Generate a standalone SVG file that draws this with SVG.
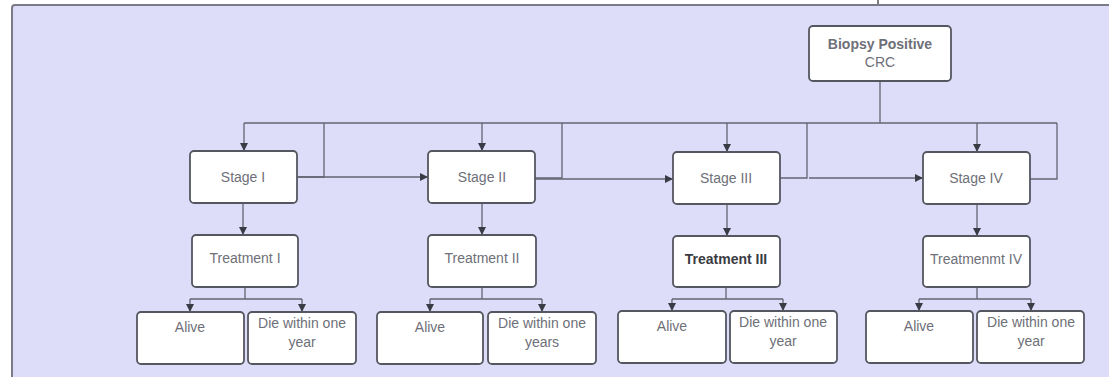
<svg xmlns="http://www.w3.org/2000/svg" width="1109" height="377" viewBox="0 0 1109 377">
<defs>
<style>
.frame{fill:#dddcf9;stroke:#7b7b88;stroke-width:2}
.box{fill:#ffffff;stroke:#555760;stroke-width:1.8}
.t{font-family:"Liberation Sans",Arial,sans-serif;font-size:14px;fill:#6e6f78;text-anchor:middle}
.b{font-weight:bold}
.dark{fill:#3a3b42;font-weight:bold}
.c{fill:none;stroke:#636472;stroke-width:1.3}
</style>
<marker id="ah" viewBox="0 0 10 10" refX="10" refY="5" markerWidth="8" markerHeight="8" markerUnits="userSpaceOnUse" orient="auto">
<path d="M0,0 L10,5 L0,10 Z" fill="#3a3b45"/>
</marker>
</defs>
<rect x="0" y="0" width="1109" height="377" fill="#ffffff"/>
<rect class="frame" x="12" y="5" width="1110" height="380" rx="3"/>
<line x1="878" y1="0" x2="878" y2="4" stroke="#555" stroke-width="1.5"/>

<g id="connectors">
<path class="c" d="M880,81 V123"/>
<path class="c" d="M244,123 H1057"/>
<path class="c" d="M244,123 V151" marker-end="url(#ah)"/>
<path class="c" d="M482,123 V151" marker-end="url(#ah)"/>
<path class="c" d="M727,123 V152" marker-end="url(#ah)"/>
<path class="c" d="M977,123 V152" marker-end="url(#ah)"/>
<path class="c" d="M297,177 H324 V123"/>
<path class="c" d="M535,178 H562 V123"/>
<path class="c" d="M780,178 H807 V123"/>
<path class="c" d="M1030,179 H1057 V123"/>
<path class="c" d="M297,177 H428" marker-end="url(#ah)"/>
<path class="c" d="M535,179 H673" marker-end="url(#ah)"/>
<path class="c" d="M809,178 H923" marker-end="url(#ah)"/>
<path class="c" d="M243,203 V235" marker-end="url(#ah)"/>
<path class="c" d="M482,203 V235" marker-end="url(#ah)"/>
<path class="c" d="M727,204 V236" marker-end="url(#ah)"/>
<path class="c" d="M977,204 V236" marker-end="url(#ah)"/>
<path class="c" d="M245,287 V299"/>
<path class="c" d="M190,299 H302"/>
<path class="c" d="M190,299 V312" marker-end="url(#ah)"/>
<path class="c" d="M302,299 V312" marker-end="url(#ah)"/>
<path class="c" d="M482,287 V299"/>
<path class="c" d="M430,299 H542"/>
<path class="c" d="M430,299 V312" marker-end="url(#ah)"/>
<path class="c" d="M542,299 V312" marker-end="url(#ah)"/>
<path class="c" d="M726,287 V299"/>
<path class="c" d="M672,299 H783"/>
<path class="c" d="M672,299 V311" marker-end="url(#ah)"/>
<path class="c" d="M783,299 V311" marker-end="url(#ah)"/>
<path class="c" d="M977,287 V299"/>
<path class="c" d="M919,299 H1031"/>
<path class="c" d="M919,299 V311" marker-end="url(#ah)"/>
<path class="c" d="M1031,299 V311" marker-end="url(#ah)"/>
</g>

<g id="biopsy">
<rect class="box" x="809" y="26" width="142" height="55" rx="4"/>
<text class="t b" x="880" y="49">Biopsy Positive</text>
<text class="t" x="880" y="67">CRC</text>
</g>

<g id="stage1"><rect class="box" x="190" y="151" width="107" height="52" rx="4"/><text class="t" x="243" y="182">Stage I</text></g>
<g id="stage2"><rect class="box" x="428" y="151" width="107" height="52" rx="4"/><text class="t" x="482" y="182">Stage II</text></g>
<g id="stage3"><rect class="box" x="673" y="152" width="107" height="52" rx="4"/><text class="t" x="726" y="183">Stage III</text></g>
<g id="stage4"><rect class="box" x="923" y="152" width="107" height="52" rx="4"/><text class="t" x="976" y="183">Stage IV</text></g>

<g id="treat1"><rect class="box" x="192" y="235" width="106" height="52" rx="4"/><text class="t" x="245" y="263">Treatment I</text></g>
<g id="treat2"><rect class="box" x="428" y="235" width="108" height="52" rx="4"/><text class="t" x="482" y="263">Treatment II</text></g>
<g id="treat3"><rect class="box" x="673" y="236" width="107" height="51" rx="4"/><text class="t dark" x="726" y="264">Treatment III</text></g>
<g id="treat4"><rect class="box" x="923" y="236" width="107" height="51" rx="4"/><text class="t" x="976" y="264">Treatmenmt IV</text></g>

<g id="alive1"><rect class="box" x="137" y="312" width="107" height="52" rx="4"/><text class="t" x="190" y="332">Alive</text></g>
<g id="die1"><rect class="box" x="248" y="312" width="108" height="52" rx="4"/><text class="t" x="302" y="328">Die within one</text><text class="t" x="302" y="347">year</text></g>
<g id="alive2"><rect class="box" x="377" y="312" width="106" height="52" rx="4"/><text class="t" x="430" y="332">Alive</text></g>
<g id="die2"><rect class="box" x="488" y="312" width="108" height="52" rx="4"/><text class="t" x="542" y="328">Die within one</text><text class="t" x="542" y="347">years</text></g>
<g id="alive3"><rect class="box" x="618" y="311" width="108" height="52" rx="4"/><text class="t" x="672" y="331">Alive</text></g>
<g id="die3"><rect class="box" x="730" y="311" width="107" height="52" rx="4"/><text class="t" x="783" y="327">Die within one</text><text class="t" x="783" y="346">year</text></g>
<g id="alive4"><rect class="box" x="866" y="311" width="107" height="52" rx="4"/><text class="t" x="919" y="331">Alive</text></g>
<g id="die4"><rect class="box" x="977" y="311" width="107" height="52" rx="4"/><text class="t" x="1031" y="327">Die within one</text><text class="t" x="1031" y="346">year</text></g>
</svg>
